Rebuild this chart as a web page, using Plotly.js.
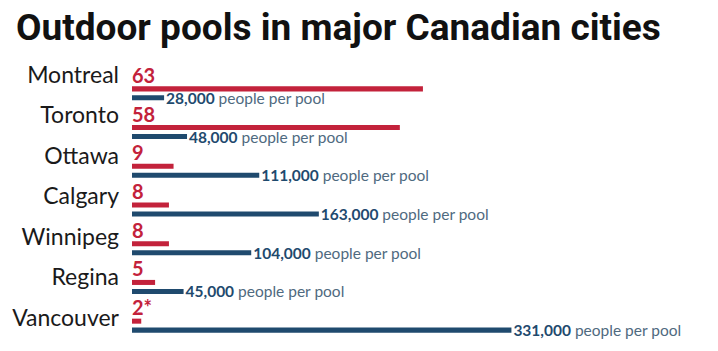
<!DOCTYPE html>
<html>
<head>
<meta charset="utf-8">
<script src="https://cdn.plot.ly/plotly-3.0.1.min.js"></script>
<style>html,body{margin:0;padding:0;background:#fff;}#chart{width:718px;height:351px;}</style>
</head>
<body>
<div id="chart"></div>
<script>
const cities = ["Montreal", "Toronto", "Ottawa", "Calgary", "Winnipeg", "Regina", "Vancouver"];
const pools = [63, 58, 9, 8, 8, 5, 2];
const poolLabels = ["63", "58", "9", "8", "8", "5", "2*"];
const peoplePerPool = [28000, 48000, 111000, 163000, 104000, 45000, 331000];

const RED = "#c3223b";
const BLUE = "#1f4a6e";
const GREY_BLUE = "#4f6a80";

const traces = [
  {
    type: "bar", orientation: "h",
    x: pools, y: cities,
    xaxis: "x2", yaxis: "y",
    marker: {color: RED},
    width: 0.13, offset: -0.181,
    hoverinfo: "skip"
  },
  {
    type: "bar", orientation: "h",
    x: peoplePerPool, y: cities,
    xaxis: "x", yaxis: "y",
    marker: {color: BLUE},
    width: 0.13, offset: 0.051,
    text: peoplePerPool,
    texttemplate: "\u2009<b>%{x:,}</b> <span style='color:" + GREY_BLUE + "'>people per pool</span>",
    textposition: "outside",
    constraintext: "none",
    cliponaxis: false,
    textfont: {family: "Lato, 'Open Sans', sans-serif", size: 15.5, color: BLUE},
    hoverinfo: "skip"
  },
  {
    type: "scatter", mode: "markers",
    x: peoplePerPool, y: cities,
    xaxis: "x", yaxis: "y2",
    marker: {opacity: 0, size: 1},
    hoverinfo: "skip", showlegend: false
  }
];

const annotations = cities.map((c, i) => ({
  x: 0, y: c, xref: "x2", yref: "y",
  text: "<b>" + poolLabels[i] + "</b>",
  showarrow: false,
  xanchor: "left", yanchor: "middle",
  xshift: -2, yshift: 18.5,
  font: {family: "Lato, 'Open Sans', sans-serif", size: 20, color: RED}
}));

const layout = {
  width: 718, height: 351,
  margin: {l: 132, r: 18, t: 74, b: 6},
  paper_bgcolor: "#ffffff", plot_bgcolor: "#ffffff",
  showlegend: false,
  hovermode: false,
  barmode: "overlay",
  title: {
    text: "<b>Outdoor pools in major Canadian cities</b>",
    x: 16 / 718, xref: "container", xanchor: "left",
    y: 1 - 27 / 351, yref: "container", yanchor: "middle",
    font: {family: "Roboto, 'Liberation Sans', sans-serif", size: 37, color: "#111111", weight: 900}
  },
  xaxis: {range: [0, 495500], visible: false, fixedrange: true},
  xaxis2: {range: [0, 123], overlaying: "x", visible: false, fixedrange: true},
  yaxis: {
    type: "category", range: [6.5, -0.5],
    showticklabels: false, showgrid: false, zeroline: false, showline: false, ticks: "",
    fixedrange: true
  },
  yaxis2: {
    type: "category", overlaying: "y", side: "left",
    range: [6.668, -0.021],
    showgrid: false, zeroline: false, showline: false, ticks: "",
    ticklabelstandoff: 12,
    tickfont: {family: "Lato, 'Open Sans', sans-serif", size: 23, color: "#1a1a1a"},
    fixedrange: true
  },
  annotations: annotations
};

Plotly.newPlot("chart", traces, layout, {displayModeBar: false, staticPlot: true});
</script>
</body>
</html>
